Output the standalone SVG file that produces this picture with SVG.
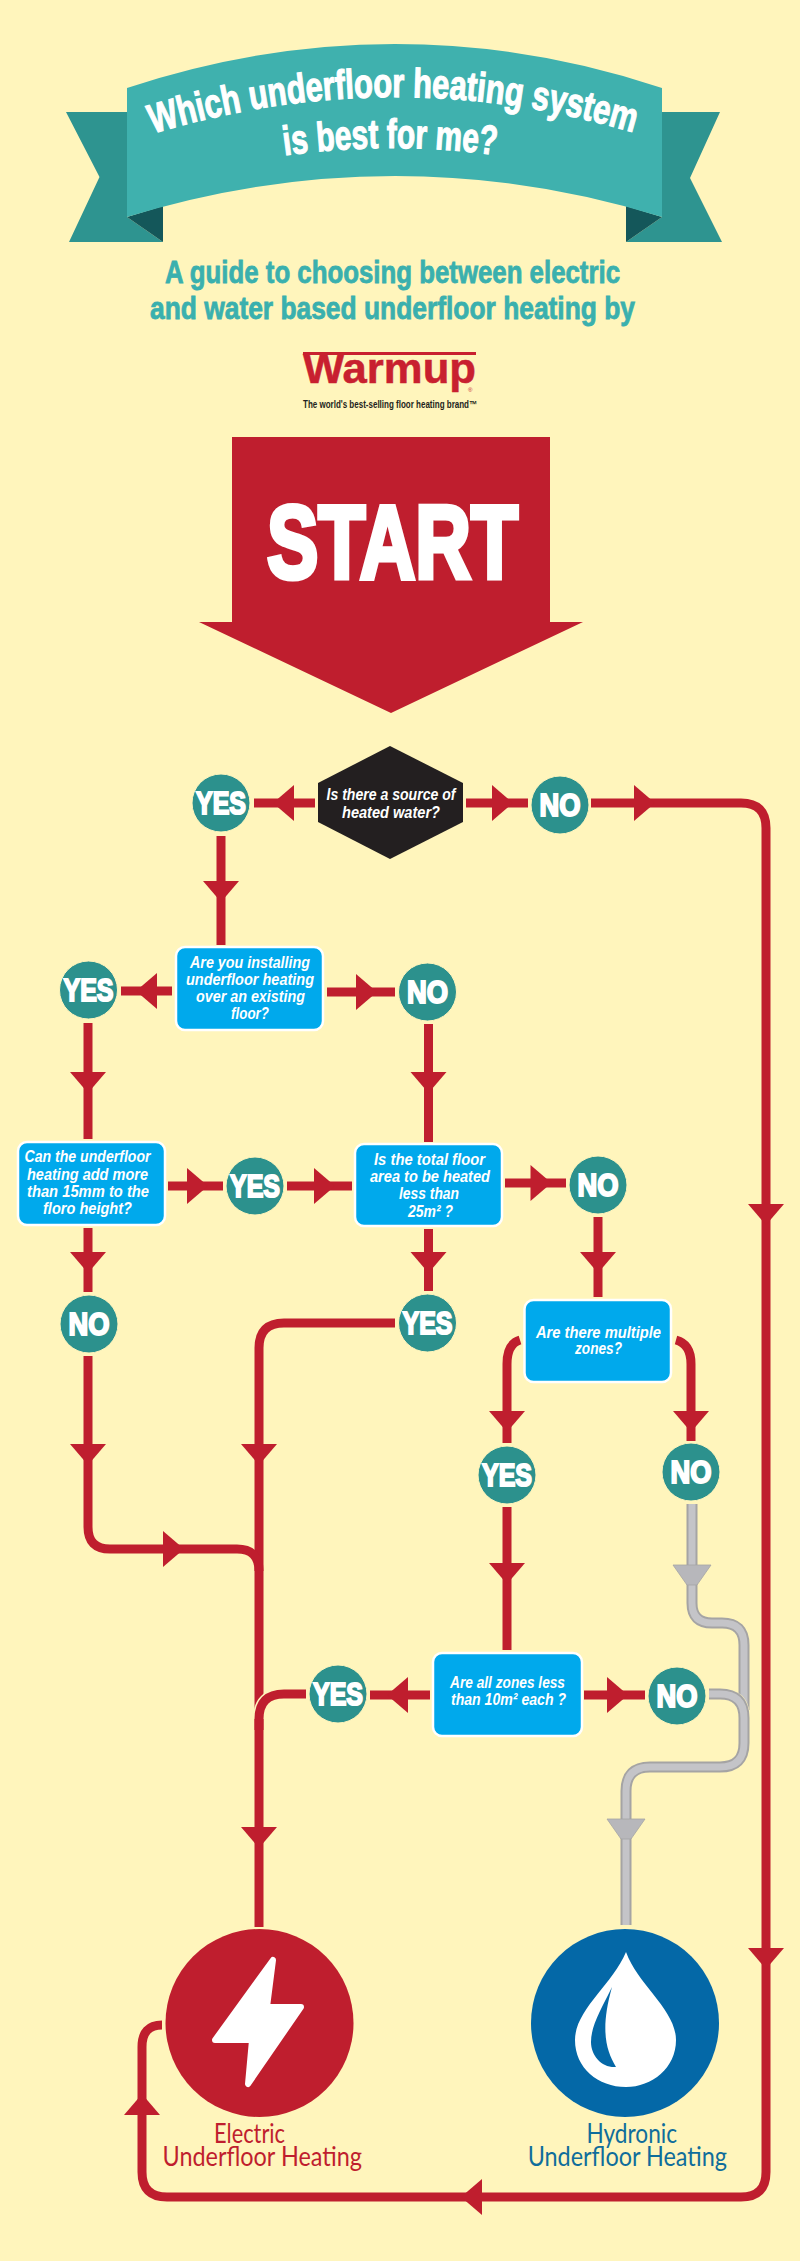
<svg xmlns="http://www.w3.org/2000/svg" width="800" height="2261" viewBox="0 0 800 2261">
<style>
text{font-family:"Liberation Sans",Arial,sans-serif}
.red{fill:none;stroke:#bf1e2e;stroke-width:9}
.g1{fill:none;stroke:#a5a4a4;stroke-width:11}
.g2{fill:none;stroke:#c4c4c8;stroke-width:7}
.hl{fill:none;stroke:#fff5bc;stroke-width:12}
.ar{fill:#bf1e2e}
.circ{fill:#2c918d;stroke:#fff5bc;stroke-width:1}
.lbl{font-weight:700;font-size:31px;fill:#fff;stroke:#fff;stroke-width:2;text-anchor:middle}
.q{font-weight:700;font-style:italic;font-size:16.500px;fill:#fff;text-anchor:start}
.box{fill:#00a9ec;stroke:#fff;stroke-width:2.500}
.title{font-weight:700;font-size:41px;fill:#fff;stroke:#fff;stroke-width:1.200}
.sub{font-weight:700;font-size:31px;fill:#3ab0ae;stroke:#3ab0ae;stroke-width:.8}
.endl{font-size:27px;font-family:"Lato","Liberation Sans",sans-serif}
</style>
<defs>
<path id="ah" d="M-18 0H18L0 21Z"/>
<path id="ahg" d="M-19 0H19L5 20H-5Z" fill="#b7b7bb" stroke="#a5a4a4" stroke-width=".8"/>
<path id="gp1" d="M692,1504 V1603 Q692,1623 712,1623 H722 Q744,1623 744,1645 V1710"/>
<path id="gp2" d="M709,1694 H720 Q744,1694 744,1718 V1743 Q744,1767 720,1767 H650 Q626,1767 626,1791 V1925"/>
<path id="t1" d="M148,135 Q395,59 642,135"/>
<path id="t2" d="M280,156 Q392,140 503,156"/>
</defs>
<rect width="800" height="2261" fill="#fff5bc"/>
<g id="banner">
<path d="M66,112H127V217L163,242H69L99.500,177Z" fill="#2e9490"/>
<path d="M720,112H662V217L626,242H722L690,178Z" fill="#2e9490"/>
<path d="M127,217L163,206V242Z" fill="#14575a"/>
<path d="M662,217L626,206V242Z" fill="#14575a"/>
<path d="M127,88Q260,44 395,44Q530,44 662,88V217Q530,176 395,176Q260,176 127,217Z" fill="#3fb1ae"/>
<text class="title"><textPath href="#t1" startOffset="1%" textLength="488" lengthAdjust="spacingAndGlyphs">Which underfloor heating system</textPath></text>
<text class="title"><textPath href="#t2" startOffset="2%" textLength="212" lengthAdjust="spacingAndGlyphs">is best for me?</textPath></text>
</g>
<g id="subtitle">
<text class="sub" x="165" y="283" textLength="455" lengthAdjust="spacingAndGlyphs">A guide to choosing between electric</text>
<text class="sub" x="150" y="319" textLength="485" lengthAdjust="spacingAndGlyphs">and water based underfloor heating by</text>
</g>
<g id="logo">
<rect x="303" y="352" width="173" height="3" fill="#c8202f"/>
<text x="303" y="383" font-size="42" font-weight="700" fill="#c8202f" stroke="#c8202f" stroke-width=".5" textLength="173" lengthAdjust="spacingAndGlyphs">Warmup</text>
<text x="468" y="392" font-size="6" fill="#c8202f">®</text>
<text x="303" y="408" font-size="10" font-weight="700" fill="#231f20" textLength="174" lengthAdjust="spacingAndGlyphs">The world's best-selling floor heating brand™</text>
</g>
<g id="start">
<path d="M232,437H550V622H583L391,713L199,622H232Z" fill="#bf1e2e"/>
<text x="267" y="578" font-size="103" font-weight="700" fill="#fff" stroke="#fff" stroke-width="5" textLength="251" lengthAdjust="spacingAndGlyphs">START</text>
</g>
<g id="connectors">
<path class="red" d="M254,803H315M466,803H528"/>
<path class="red" d="M591,803H741Q766,803 766,828V2172Q766,2197 741,2197H167Q142,2197 142,2172V2047Q142,2025 162,2025"/>
<path class="red" d="M221,836V945M121,991H172M327,992H395M88,1023V1139M428.500,1024V1142"/>
<path class="red" d="M168,1186H223M287,1186H352M505,1183H566M598,1217V1297M88,1228V1292M428.500,1229V1291"/>
<path class="red" d="M395,1323H284Q259,1323 259,1348V1927"/>
<path class="red" d="M88,1356V1527Q88,1549 110,1549H237Q259,1549 259,1571"/>
<path class="red" d="M520,1340Q507,1344 507,1364V1443M676,1340Q691,1344 691,1364V1441M507,1507V1650M584,1695H645M430,1695H370"/>
<path class="hl" d="M306,1694H284Q259,1694 259,1719" stroke-width="11"/>
<path class="red" d="M306,1694H284Q259,1694 259,1719V1730"/>
<use href="#ah" class="ar" transform="translate(294,803) rotate(90)"/>
<use href="#ah" class="ar" transform="translate(492,803) rotate(-90)"/>
<use href="#ah" class="ar" transform="translate(634,803) rotate(-90)"/>
<use href="#ah" class="ar" transform="translate(766,1204)"/>
<use href="#ah" class="ar" transform="translate(766,1948)"/>
<use href="#ah" class="ar" transform="translate(482,2197) rotate(90)"/>
<use href="#ah" class="ar" transform="translate(142,2115) rotate(180)"/>
<use href="#ah" class="ar" transform="translate(221,881)"/>
<use href="#ah" class="ar" transform="translate(157,991) rotate(90)"/>
<use href="#ah" class="ar" transform="translate(356,992) rotate(-90)"/>
<use href="#ah" class="ar" transform="translate(88,1072)"/>
<use href="#ah" class="ar" transform="translate(428.500,1072)"/>
<use href="#ah" class="ar" transform="translate(187,1186) rotate(-90)"/>
<use href="#ah" class="ar" transform="translate(314,1186) rotate(-90)"/>
<use href="#ah" class="ar" transform="translate(530.500,1183) rotate(-90)"/>
<use href="#ah" class="ar" transform="translate(598,1252)"/>
<use href="#ah" class="ar" transform="translate(88,1252)"/>
<use href="#ah" class="ar" transform="translate(428.500,1252)"/>
<use href="#ah" class="ar" transform="translate(88,1444)"/>
<use href="#ah" class="ar" transform="translate(259,1444)"/>
<use href="#ah" class="ar" transform="translate(163,1549) rotate(-90)"/>
<use href="#ah" class="ar" transform="translate(507,1411)"/>
<use href="#ah" class="ar" transform="translate(691,1411)"/>
<use href="#ah" class="ar" transform="translate(507,1563)"/>
<use href="#ah" class="ar" transform="translate(607,1695) rotate(-90)"/>
<use href="#ah" class="ar" transform="translate(408,1695) rotate(90)"/>
<use href="#ah" class="ar" transform="translate(259,1827)"/>
<use href="#gp1" class="g1"/><use href="#gp1" class="g2"/>
<use href="#ahg" transform="translate(692,1565)"/>
<use href="#gp2" class="hl"/>
<use href="#gp2" class="g1"/><use href="#gp2" class="g2"/>
<use href="#ahg" transform="translate(626,1819)"/>
</g>
<g id="q-source">
<path d="M390,746L463,783V822L390,859L318,822V783Z" fill="#231f20"/>
<text class="q" x="326.500" y="800" textLength="129" lengthAdjust="spacingAndGlyphs">Is there a source of</text>
<text class="q" x="342" y="818" textLength="98" lengthAdjust="spacingAndGlyphs">heated water?</text>
</g>
<g id="q-existing">
<rect class="box" x="176" y="947" width="147" height="83" rx="9"/>
<text class="q" x="190" y="968" textLength="120" lengthAdjust="spacingAndGlyphs">Are you installing</text>
<text class="q" x="186" y="985" textLength="128" lengthAdjust="spacingAndGlyphs">underfloor heating</text>
<text class="q" x="196" y="1002" textLength="109" lengthAdjust="spacingAndGlyphs">over an existing</text>
<text class="q" x="231" y="1019" textLength="38" lengthAdjust="spacingAndGlyphs">floor?</text>
</g>
<g id="q-height">
<rect class="box" x="18" y="1142" width="147" height="83" rx="9"/>
<text class="q" x="24.500" y="1162" textLength="126" lengthAdjust="spacingAndGlyphs">Can the underfloor</text>
<text class="q" x="27" y="1180" textLength="121" lengthAdjust="spacingAndGlyphs">heating add more</text>
<text class="q" x="27" y="1197" textLength="122" lengthAdjust="spacingAndGlyphs">than 15mm to the</text>
<text class="q" x="43" y="1214" textLength="89" lengthAdjust="spacingAndGlyphs">floro height?</text>
</g>
<g id="q-area">
<rect class="box" x="355" y="1144" width="147" height="82" rx="9"/>
<text class="q" x="374" y="1165" textLength="111" lengthAdjust="spacingAndGlyphs">Is the total floor</text>
<text class="q" x="370" y="1182" textLength="120" lengthAdjust="spacingAndGlyphs">area to be heated</text>
<text class="q" x="399" y="1199" textLength="60" lengthAdjust="spacingAndGlyphs">less than</text>
<text class="q" x="408" y="1217" textLength="45" lengthAdjust="spacingAndGlyphs">25m² ?</text>
</g>
<g id="q-zones">
<rect class="box" x="524.500" y="1300" width="146.500" height="82" rx="9"/>
<text class="q" x="536" y="1338" textLength="125" lengthAdjust="spacingAndGlyphs">Are there multiple</text>
<text class="q" x="575" y="1354" textLength="47" lengthAdjust="spacingAndGlyphs">zones?</text>
</g>
<g id="q-less">
<rect class="box" x="433" y="1653" width="149" height="83" rx="9"/>
<text class="q" x="450" y="1688" textLength="115" lengthAdjust="spacingAndGlyphs">Are all zones less</text>
<text class="q" x="451" y="1705" textLength="115" lengthAdjust="spacingAndGlyphs">than 10m² each ?</text>
</g>
<g id="yes-1"><circle class="circ" cx="221" cy="803" r="29"/><text class="lbl" x="221" y="814" textLength="50" lengthAdjust="spacingAndGlyphs">YES</text></g>
<g id="no-1"><circle class="circ" cx="560" cy="805" r="29"/><text class="lbl" x="560" y="816" textLength="41" lengthAdjust="spacingAndGlyphs">NO</text></g>
<g id="yes-2"><circle class="circ" cx="88.500" cy="990" r="29"/><text class="lbl" x="88.500" y="1001" textLength="50" lengthAdjust="spacingAndGlyphs">YES</text></g>
<g id="no-2"><circle class="circ" cx="427.500" cy="992" r="29"/><text class="lbl" x="427.500" y="1003" textLength="41" lengthAdjust="spacingAndGlyphs">NO</text></g>
<g id="yes-3"><circle class="circ" cx="255" cy="1186" r="29"/><text class="lbl" x="255" y="1197" textLength="50" lengthAdjust="spacingAndGlyphs">YES</text></g>
<g id="no-3"><circle class="circ" cx="598" cy="1185" r="29"/><text class="lbl" x="598" y="1196" textLength="41" lengthAdjust="spacingAndGlyphs">NO</text></g>
<g id="no-4"><circle class="circ" cx="89" cy="1324" r="29"/><text class="lbl" x="89" y="1335" textLength="41" lengthAdjust="spacingAndGlyphs">NO</text></g>
<g id="yes-4"><circle class="circ" cx="427.500" cy="1323" r="29"/><text class="lbl" x="427.500" y="1334" textLength="50" lengthAdjust="spacingAndGlyphs">YES</text></g>
<g id="yes-5"><circle class="circ" cx="507" cy="1475" r="29"/><text class="lbl" x="507" y="1486" textLength="50" lengthAdjust="spacingAndGlyphs">YES</text></g>
<g id="no-5"><circle class="circ" cx="691" cy="1472" r="29"/><text class="lbl" x="691" y="1483" textLength="41" lengthAdjust="spacingAndGlyphs">NO</text></g>
<g id="yes-6"><circle class="circ" cx="338" cy="1694" r="29"/><text class="lbl" x="338" y="1705" textLength="50" lengthAdjust="spacingAndGlyphs">YES</text></g>
<g id="no-6"><circle class="circ" cx="677" cy="1696" r="29"/><text class="lbl" x="677" y="1707" textLength="41" lengthAdjust="spacingAndGlyphs">NO</text></g>
<g id="electric">
<circle cx="259.500" cy="2023" r="94" fill="#bf1e2e"/>
<path d="M273,1960L267,2007H301L248,2084L252,2040H215Z" fill="#fff" stroke="#fff" stroke-width="6" stroke-linejoin="round"/>
<text class="endl" x="214" y="2143" fill="#bf1e2e" textLength="71" lengthAdjust="spacingAndGlyphs">Electric</text>
<text class="endl" x="162.500" y="2166" fill="#bf1e2e" textLength="199.500" lengthAdjust="spacingAndGlyphs">Underfloor Heating</text>
</g>
<g id="hydronic">
<circle cx="625" cy="2023" r="94" fill="#0468a7"/>
<path d="M626,1952C638,1985 676,2010 676,2040C676,2068 652,2087 626,2087C598,2087 575,2068 575,2040C575,2010 612,1985 626,1952Z" fill="#fff"/>
<path d="M612,1987C602,2008 591,2025 591,2042C591,2056 602,2068 616,2067C606,2050 600,2030 612,1987Z" fill="#0468a7"/>
<text class="endl" x="586.500" y="2143" fill="#0f6d9b" textLength="90.500" lengthAdjust="spacingAndGlyphs">Hydronic</text>
<text class="endl" x="527.700" y="2166" fill="#0f6d9b" textLength="199.300" lengthAdjust="spacingAndGlyphs">Underfloor Heating</text>
</g>
</svg>
